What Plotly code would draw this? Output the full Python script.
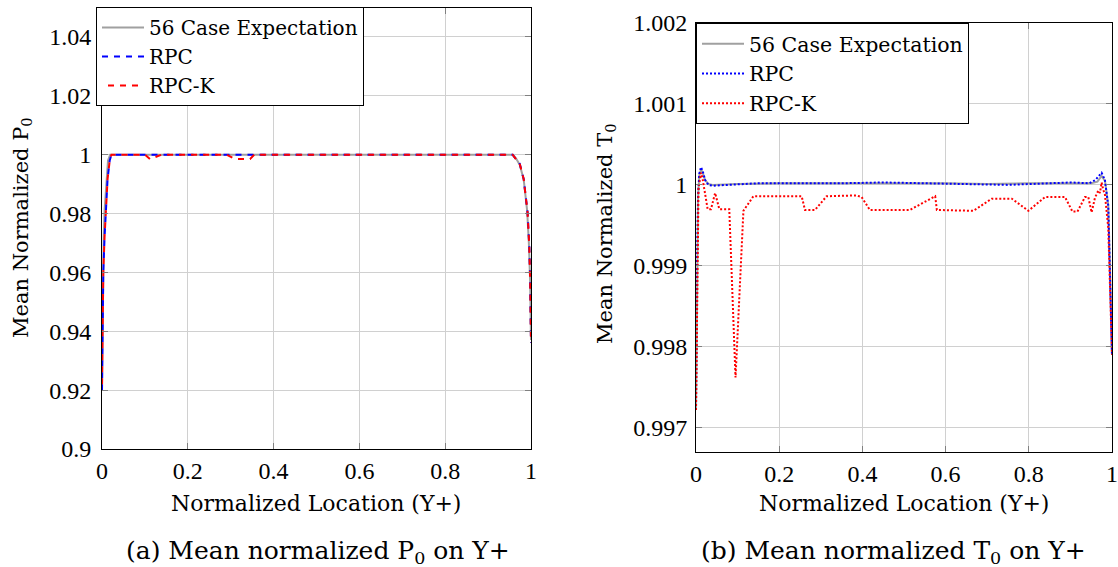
import plotly.graph_objects as go

# ---------------- data: left panel (P0) ----------------
p_gray_x = [0, 0.002, 0.004, 0.006, 0.010, 0.014, 0.019, 0.03, 0.1, 0.2, 0.3, 0.4, 0.5, 0.6, 0.7, 0.8, 0.9, 0.95,
            0.958, 0.966, 0.974, 0.983, 0.991, 0.995, 0.998, 1.0]
p_gray_y = [0.921, 0.955, 0.972, 0.981, 0.991, 0.998, 1.0, 1.0, 1.0, 1.0, 1.0, 1.0, 1.0, 1.0, 1.0, 1.0, 1.0, 1.0,
            1.0, 0.9985, 0.9965, 0.9915, 0.981, 0.970, 0.957, 0.937]

p_rpc_x = [0, 0.001, 0.003, 0.006, 0.009, 0.013, 0.018, 0.022, 0.03, 0.1, 0.2, 0.3, 0.4, 0.5, 0.6, 0.7, 0.8, 0.9,
           0.95, 0.957, 0.965, 0.973, 0.983, 0.992, 0.996, 0.998, 1.0]
p_rpc_y = [0.920, 0.941, 0.960, 0.972, 0.980, 0.9917, 0.998, 1.0, 1.0, 1.0, 1.0, 1.0, 1.0, 1.0, 1.0, 1.0, 1.0, 1.0,
           1.0, 1.0, 0.9985, 0.9973, 0.9917, 0.9804, 0.969, 0.9576, 0.936]

p_rpck_x = [0, 0.001, 0.003, 0.006, 0.009, 0.013, 0.018, 0.022, 0.03, 0.1, 0.112, 0.139, 0.2, 0.29, 0.31, 0.345,
            0.355, 0.4, 0.5, 0.6, 0.7, 0.8, 0.9, 0.95, 0.957, 0.965, 0.973, 0.983, 0.992, 0.996, 0.998, 1.0]
p_rpck_y = [0.920, 0.941, 0.960, 0.972, 0.980, 0.9917, 0.998, 1.0, 1.0, 1.0, 0.9985, 1.0, 1.0, 1.0, 0.9985, 0.9985,
            1.0, 1.0, 1.0, 1.0, 1.0, 1.0, 1.0, 1.0, 1.0, 0.9985, 0.9973, 0.9917, 0.9804, 0.969, 0.9576, 0.936]

# ---------------- data: right panel (T0) ----------------
t_gray_x = [0, 0.002, 0.005, 0.008, 0.012, 0.016, 0.022, 0.03, 0.04, 0.1, 0.2, 0.3, 0.4, 0.5, 0.6, 0.7, 0.8, 0.9,
            0.95, 0.965, 0.975, 0.983, 0.991, 0.996, 1.0]
t_gray_y = [0.99722, 0.9988, 0.99985, 1.00012, 1.00019, 1.00015, 1.00006, 1.00001, 1.00000, 1.00001, 1.00002,
            1.00002, 1.00002, 1.00002, 1.00002, 1.00001, 1.00002, 1.00002, 1.00002, 1.00004, 1.00011, 1.00005,
            0.99975, 0.9988, 0.9979]

t_rpc_x = [0, 0.002, 0.005, 0.008, 0.012, 0.016, 0.022, 0.03, 0.04, 0.08, 0.15, 0.25, 0.35, 0.45, 0.55, 0.62, 0.7,
           0.75, 0.8, 0.85, 0.9, 0.945, 0.96, 0.975, 0.983, 0.991, 0.996, 1.0]
t_rpc_y = [0.99722, 0.9989, 0.99988, 1.00014, 1.00022, 1.00017, 1.00006, 1.00000, 0.99999, 1.00000, 1.00002,
           1.00002, 1.00002, 1.00003, 1.00002, 1.00001, 1.00000, 1.00000, 1.00001, 1.00002, 1.00003, 1.00002,
           1.00006, 1.00015, 1.00006, 0.99974, 0.9988, 0.9979]

t_rpck_x = [0, 0.003, 0.006, 0.009, 0.012, 0.016, 0.020, 0.024, 0.028, 0.036, 0.046, 0.056, 0.080, 0.095, 0.114,
            0.138, 0.254, 0.262, 0.286, 0.314, 0.386, 0.398, 0.418, 0.514, 0.575, 0.579, 0.667, 0.711, 0.759,
            0.799, 0.839, 0.887, 0.905, 0.917, 0.935, 0.943, 0.951, 0.959, 0.967, 0.971, 0.975, 0.979, 0.983,
            0.991, 0.995, 1.0]
t_rpck_y = [0.99722, 0.9990, 0.99995, 1.00005, 1.00015, 1.00007, 0.99996, 0.99982, 0.99970, 0.99970, 0.99990,
            0.99970, 0.99970, 0.99762, 0.99968, 0.99986, 0.99986, 0.99969, 0.99969, 0.99986, 0.99987, 0.99985,
            0.99969, 0.99969, 0.99986, 0.99969, 0.99968, 0.99983, 0.99983, 0.99968, 0.99985, 0.99985, 0.99967,
            0.99967, 0.99985, 0.99985, 0.99966, 0.99984, 0.99993, 0.99990, 1.00003, 0.99994, 0.99988, 0.99947,
            0.99865, 0.9979]

x_ticks = [0, 0.2, 0.4, 0.6, 0.8, 1]
x_tick_labels = ["0", "0.2", "0.4", "0.6", "0.8", "1"]
p_ticks = [0.9, 0.92, 0.94, 0.96, 0.98, 1.0, 1.02, 1.04]
p_tick_labels = ["0.9", "0.92", "0.94", "0.96", "0.98", "1", "1.02", "1.04"]
t_ticks = [0.997, 0.998, 0.999, 1.0, 1.001, 1.002]
t_tick_labels = ["0.997", "0.998", "0.999", "1", "1.001", "1.002"]

TICKFONT = "Liberation Serif, Times New Roman, serif"
TEXTFONT = "DejaVu Serif, serif"
W, H = 1118, 567
GRAY = "#a0a0a0"

fig = go.Figure()
fig.add_trace(go.Scatter(x=p_gray_x, y=p_gray_y, mode="lines", name="56 Case Expectation",
                         line=dict(color=GRAY, width=2), xaxis="x", yaxis="y", legend="legend"))
fig.add_trace(go.Scatter(x=p_rpc_x, y=p_rpc_y, mode="lines", name="RPC",
                         line=dict(color="#0000ff", width=2, dash="6px,6px"), xaxis="x", yaxis="y", legend="legend"))
fig.add_trace(go.Scatter(x=p_rpck_x, y=p_rpck_y, mode="lines", name="RPC-K",
                         line=dict(color="#ff0000", width=2, dash="0px,6px,6px,0px"), xaxis="x", yaxis="y",
                         legend="legend"))

fig.add_trace(go.Scatter(x=t_gray_x, y=t_gray_y, mode="lines", name="56 Case Expectation",
                         line=dict(color=GRAY, width=2), xaxis="x2", yaxis="y2", legend="legend2"))
fig.add_trace(go.Scatter(x=t_rpc_x, y=t_rpc_y, mode="lines", name="RPC",
                         line=dict(color="#0000ff", width=2, dash="2px,2px"), xaxis="x2", yaxis="y2", legend="legend2"))
fig.add_trace(go.Scatter(x=t_rpck_x, y=t_rpck_y, mode="lines", name="RPC-K",
                         line=dict(color="#ff0000", width=2, dash="2px,2px"), xaxis="x2", yaxis="y2", legend="legend2"))

axis_common = dict(showgrid=True, gridcolor="#d0d0d0", gridwidth=1, showline=True, linecolor="black",
                   linewidth=1, mirror="allticks", ticks="inside", ticklen=6, tickcolor="#808080",
                   zeroline=False, automargin=False,
                   tickfont=dict(family=TICKFONT, size=24, color="black"))

fig.update_layout(
    width=W, height=H,
    margin=dict(l=0, r=0, t=0, b=0, autoexpand=False),
    paper_bgcolor="white", plot_bgcolor="white",
    font=dict(family=TEXTFONT, size=20, color="black"),
    xaxis=dict(domain=[102 / W, 531 / W], range=[0, 1], tickvals=x_ticks, ticktext=x_tick_labels,
               anchor="y", **axis_common),
    yaxis=dict(domain=[1 - 449 / H, 1 - 7.5 / H], range=[0.9, 1.05], tickvals=p_ticks, ticktext=p_tick_labels,
               anchor="x", ticklabelstandoff=5, **axis_common),
    xaxis2=dict(domain=[696 / W, 1112 / W], range=[0, 1], tickvals=x_ticks, ticktext=x_tick_labels,
                anchor="y2", **axis_common),
    yaxis2=dict(domain=[1 - 452 / H, 1 - 23 / H], range=[0.9967, 1.002], tickvals=t_ticks,
                ticktext=t_tick_labels, anchor="x2", ticklabelstandoff=3, **axis_common),
    legend=dict(x=96 / W, y=1 - 7 / H, xanchor="left", yanchor="top", bgcolor="white",
                bordercolor="black", borderwidth=1, font=dict(family=TEXTFONT, size=20),
                tracegroupgap=0, itemwidth=42),
    legend2=dict(x=696 / W, y=1 - 23 / H, xanchor="left", yanchor="top", bgcolor="white",
                 bordercolor="black", borderwidth=1, font=dict(family=TEXTFONT, size=20.5),
                 tracegroupgap=0, itemwidth=42),
    showlegend=True,
)

ann = [
    dict(text="Mean Normalized P<sub>0</sub>", x=22 / W, y=1 - 228 / H, textangle=-90, size=21),
    dict(text="Mean Normalized T<sub>0</sub>", x=606 / W, y=1 - 234 / H, textangle=-90, size=21),
    dict(text="Normalized Location (Y+)", x=316 / W, y=1 - 503 / H, size=22),
    dict(text="Normalized Location (Y+)", x=904 / W, y=1 - 503 / H, size=22),
    dict(text="(a) Mean normalized P<sub>0</sub> on Y+", x=318 / W, y=1 - 552 / H, size=25),
    dict(text="(b) Mean normalized T<sub>0</sub> on Y+", x=893 / W, y=1 - 552 / H, size=25),
]
for a in ann:
    fig.add_annotation(text=a["text"], x=a["x"], y=a["y"], xref="paper", yref="paper",
                       xanchor="center", yanchor="middle", showarrow=False,
                       textangle=a.get("textangle", 0),
                       font=dict(family=TEXTFONT, size=a.get("size", 20), color="black"))

fig.write_html("out.html", post_script="document.body.style.margin='0px';",
               config={"displayModeBar": False})
